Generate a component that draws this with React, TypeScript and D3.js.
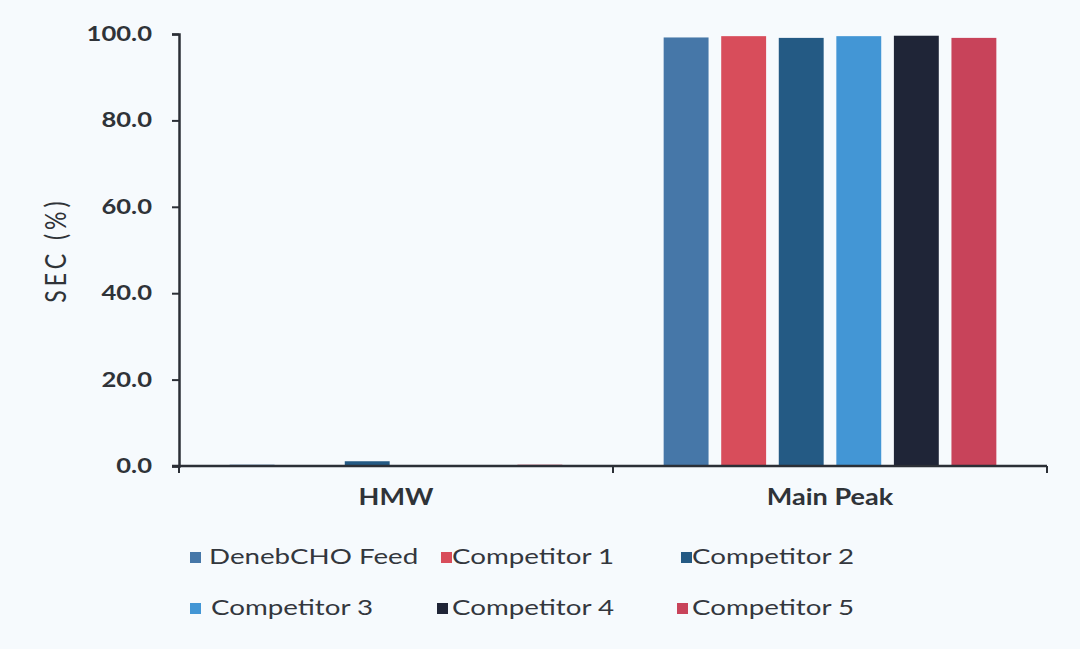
import React, { useEffect, useRef } from "react"
import * as d3 from "d3"

const categories = ["HMW", "Main Peak"]
const seriesNames = ["DenebCHO Feed", "Competitor 1", "Competitor 2", "Competitor 3", "Competitor 4", "Competitor 5"]
const seriesColors = ["#4677a8", "#d84d5b", "#245a84", "#4396d5", "#1f2537", "#c8435a"]
const hmwValues = [0.3, 0.05, 1.1, 0.05, 0.05, 0.3]
const mainPeakValues = [99.2, 99.5, 99.1, 99.5, 99.6, 99.1]
const yTicks = [0, 20, 40, 60, 80, 100]

const W = 1080
const H = 649
const FONT = "Lato, 'Open Sans', sans-serif"
// the reference text is drawn wide, so stretch it sideways
const SX = 1.28

export default function App() {
  const svgRef = useRef<SVGSVGElement>(null)

  useEffect(() => {
    if (!svgRef.current) return
    const svg = d3.select(svgRef.current)
    svg.selectAll("*").remove()

    const margin = { top: 34, right: 33, bottom: 183, left: 179 }
    const x0 = d3
      .scaleBand()
      .domain(categories)
      .range([margin.left, W - margin.right])
    const x1 = d3
      .scaleBand()
      .domain(seriesNames)
      .range([0, x0.bandwidth()])
      .paddingInner(0.22)
      .paddingOuter(0.88)
    const y = d3
      .scaleLinear()
      .domain([0, 100])
      .range([H - margin.bottom, margin.top])

    svg.append("rect").attr("width", W).attr("height", H).attr("fill", "#f6fafd")

    const data = categories.map((c, i) => ({
      category: c,
      values: (i === 0 ? hmwValues : mainPeakValues).map((v, j) => ({ name: seriesNames[j], value: v, color: seriesColors[j] })),
    }))

    // bars
    svg
      .append("g")
      .selectAll("g")
      .data(data)
      .enter()
      .append("g")
      .attr("transform", (d) => `translate(${x0(d.category)},0)`)
      .selectAll("rect")
      .data((d) => d.values)
      .enter()
      .append("rect")
      .attr("x", (d) => x1(d.name) as number)
      .attr("width", x1.bandwidth())
      .attr("y", (d) => y(d.value))
      .attr("height", (d) => y(0) - y(d.value))
      .attr("fill", (d) => d.color)

    const axisColor = "#2b2f36"
    const textColor = "#2f3338"

    // y axis
    const yAxis = svg
      .append("g")
      .attr("transform", `translate(${margin.left},0)`)
      .call(
        d3
          .axisLeft(y)
          .tickValues(yTicks)
          .tickSize(7)
          .tickPadding(17)
          .tickFormat((d) => d3.format(".1f")(d as number))
      )
    yAxis.select(".domain").attr("stroke", axisColor).attr("stroke-width", 2.5)
    yAxis.selectAll(".tick line").attr("stroke", axisColor).attr("stroke-width", 2)
    yAxis
      .selectAll(".tick text")
      .attr("x", -27 / SX)
      .attr("transform", `scale(${SX},1)`)
      .attr("fill", textColor)
      .style("font-family", FONT)
      .style("font-size", "20px")
      .style("font-weight", "bold")

    // x axis
    const xAxis = svg
      .append("g")
      .attr("transform", `translate(0,${y(0)})`)
      .call(d3.axisBottom(x0).tickSize(0).tickPadding(18))
    xAxis.select(".domain").remove()
    xAxis
      .append("line")
      .attr("x1", margin.left - 7)
      .attr("x2", W - margin.right)
      .attr("stroke", axisColor)
      .attr("stroke-width", 2.5)
    xAxis
      .selectAll(".boundary")
      .data([margin.left, x0("Main Peak") as number, W - margin.right])
      .enter()
      .append("line")
      .attr("x1", (d) => d)
      .attr("x2", (d) => d)
      .attr("y1", 0)
      .attr("y2", 7)
      .attr("stroke", axisColor)
      .attr("stroke-width", 2)
    xAxis
      .selectAll(".tick text")
      .attr("transform", `scale(${SX - 0.05},1)`)
      .attr("fill", textColor)
      .attr("dy", "0.95em")
      .style("font-family", FONT)
      .style("font-size", "22px")
      .style("font-weight", "bold")

    // y title
    svg
      .append("text")
      .attr("transform", `translate(55,${(y(0) + y(100)) / 2}) rotate(-90) scale(1,1.25)`)
      .attr("text-anchor", "middle")
      .attr("dominant-baseline", "central")
      .attr("fill", textColor)
      .style("font-family", FONT)
      .style("font-size", "23px")
      .style("letter-spacing", "4px")
      .text("SEC (%)")

    // legend
    const boxX = [190, 441, 681]
    const textX = [209, 452, 692]
    const rowY = [556, 607]
    const legend = svg
      .append("g")
      .selectAll("g")
      .data(seriesNames)
      .enter()
      .append("g")
      .attr("transform", (d, i) => `translate(0,${rowY[Math.floor(i / 3)]})`)
    legend
      .append("rect")
      .attr("x", (d, i) => boxX[i % 3] + (i >= 4 ? -4 : 0))
      .attr("y", -4)
      .attr("width", 11)
      .attr("height", 11)
      .attr("fill", (d, i) => seriesColors[i])
    legend
      .append("text")
      .attr("transform", (d, i) => `translate(${textX[i % 3] + (i === 3 ? 2 : 0)},0) scale(${SX - 0.02},1)`)
      .attr("dy", "0.38em")
      .attr("fill", "#33373d")
      .style("font-family", FONT)
      .style("font-size", "22px")
      .text((d) => d)
  }, [])

  return (
    <svg
      ref={svgRef}
      width={W}
      height={H}
      style={{ position: "absolute", left: 0, top: 0, display: "block" }}
    ></svg>
  )
}
